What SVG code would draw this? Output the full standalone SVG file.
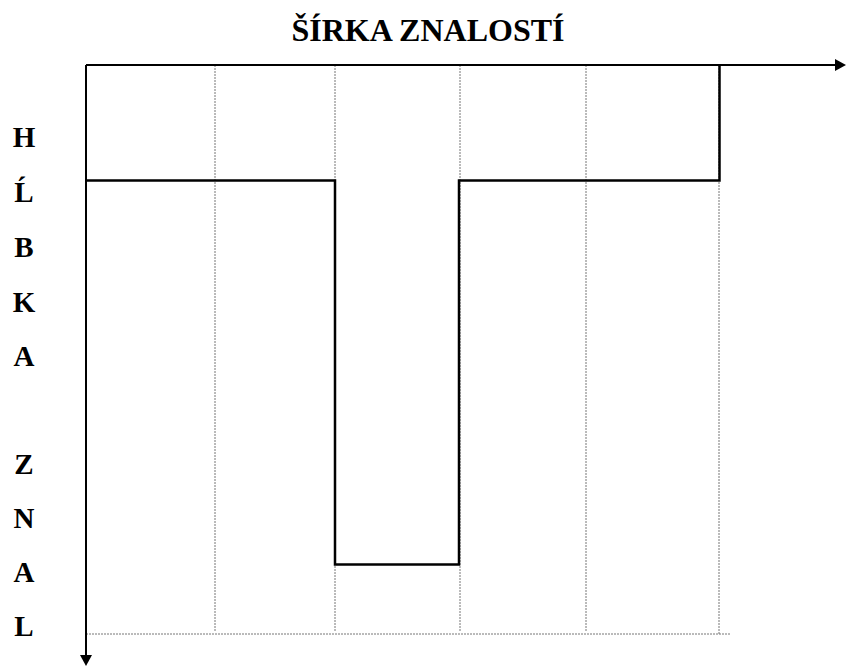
<svg xmlns="http://www.w3.org/2000/svg" width="846" height="666" viewBox="0 0 846 666">
<style>
.t{font-family:"Liberation Serif","Times New Roman",serif;font-weight:bold;fill:#000}
.lbl{font-size:29px;text-anchor:middle}
.grid{stroke:#777;stroke-width:1;stroke-dasharray:2 1;fill:none}
.axis{stroke:#000;stroke-width:2;fill:none}
.step{stroke:#000;stroke-width:2.5;fill:none}
</style>
<defs>
<marker id="ah" markerWidth="11" markerHeight="12" refX="9" refY="6" orient="auto" markerUnits="userSpaceOnUse">
<path d="M0,0 L11,6 L0,12 Z" fill="#000"/>
</marker>
</defs>
<rect width="846" height="666" fill="#fff"/>
<g id="title"><text class="t" x="428" y="41" font-size="32" text-anchor="middle">ŠÍRKA ZNALOSTÍ</text></g>
<g id="axis-label">
<text class="t lbl" x="24" y="147">H</text>
<text class="t lbl" x="24" y="202">Ĺ</text>
<text class="t lbl" x="24" y="257">B</text>
<text class="t lbl" x="24" y="312">K</text>
<text class="t lbl" x="24" y="366">A</text>
<text class="t lbl" x="24" y="474">Z</text>
<text class="t lbl" x="24" y="528">N</text>
<text class="t lbl" x="24" y="582">A</text>
<text class="t lbl" x="24" y="636">L</text>
</g>
<g id="grid">
<line class="grid" x1="215" y1="65" x2="215" y2="631"/>
<line class="grid" x1="335" y1="65" x2="335" y2="631"/>
<line class="grid" x1="460" y1="65" x2="460" y2="631"/>
<line class="grid" x1="586" y1="65" x2="586" y2="631"/>
<line class="grid" x1="719" y1="65" x2="719" y2="634"/>
<line class="grid" x1="86" y1="634" x2="731" y2="634"/>
</g>
<g id="connectors">
<line class="axis" x1="86" y1="65" x2="844" y2="65" marker-end="url(#ah)"/>
<line class="axis" x1="86" y1="65" x2="86" y2="664" marker-end="url(#ah)"/>
<polyline class="step" points="86,180.5 335,180.5 335,564.5 459,564.5 459,180.5 719.5,180.5 719.5,65"/>
</g>
</svg>
